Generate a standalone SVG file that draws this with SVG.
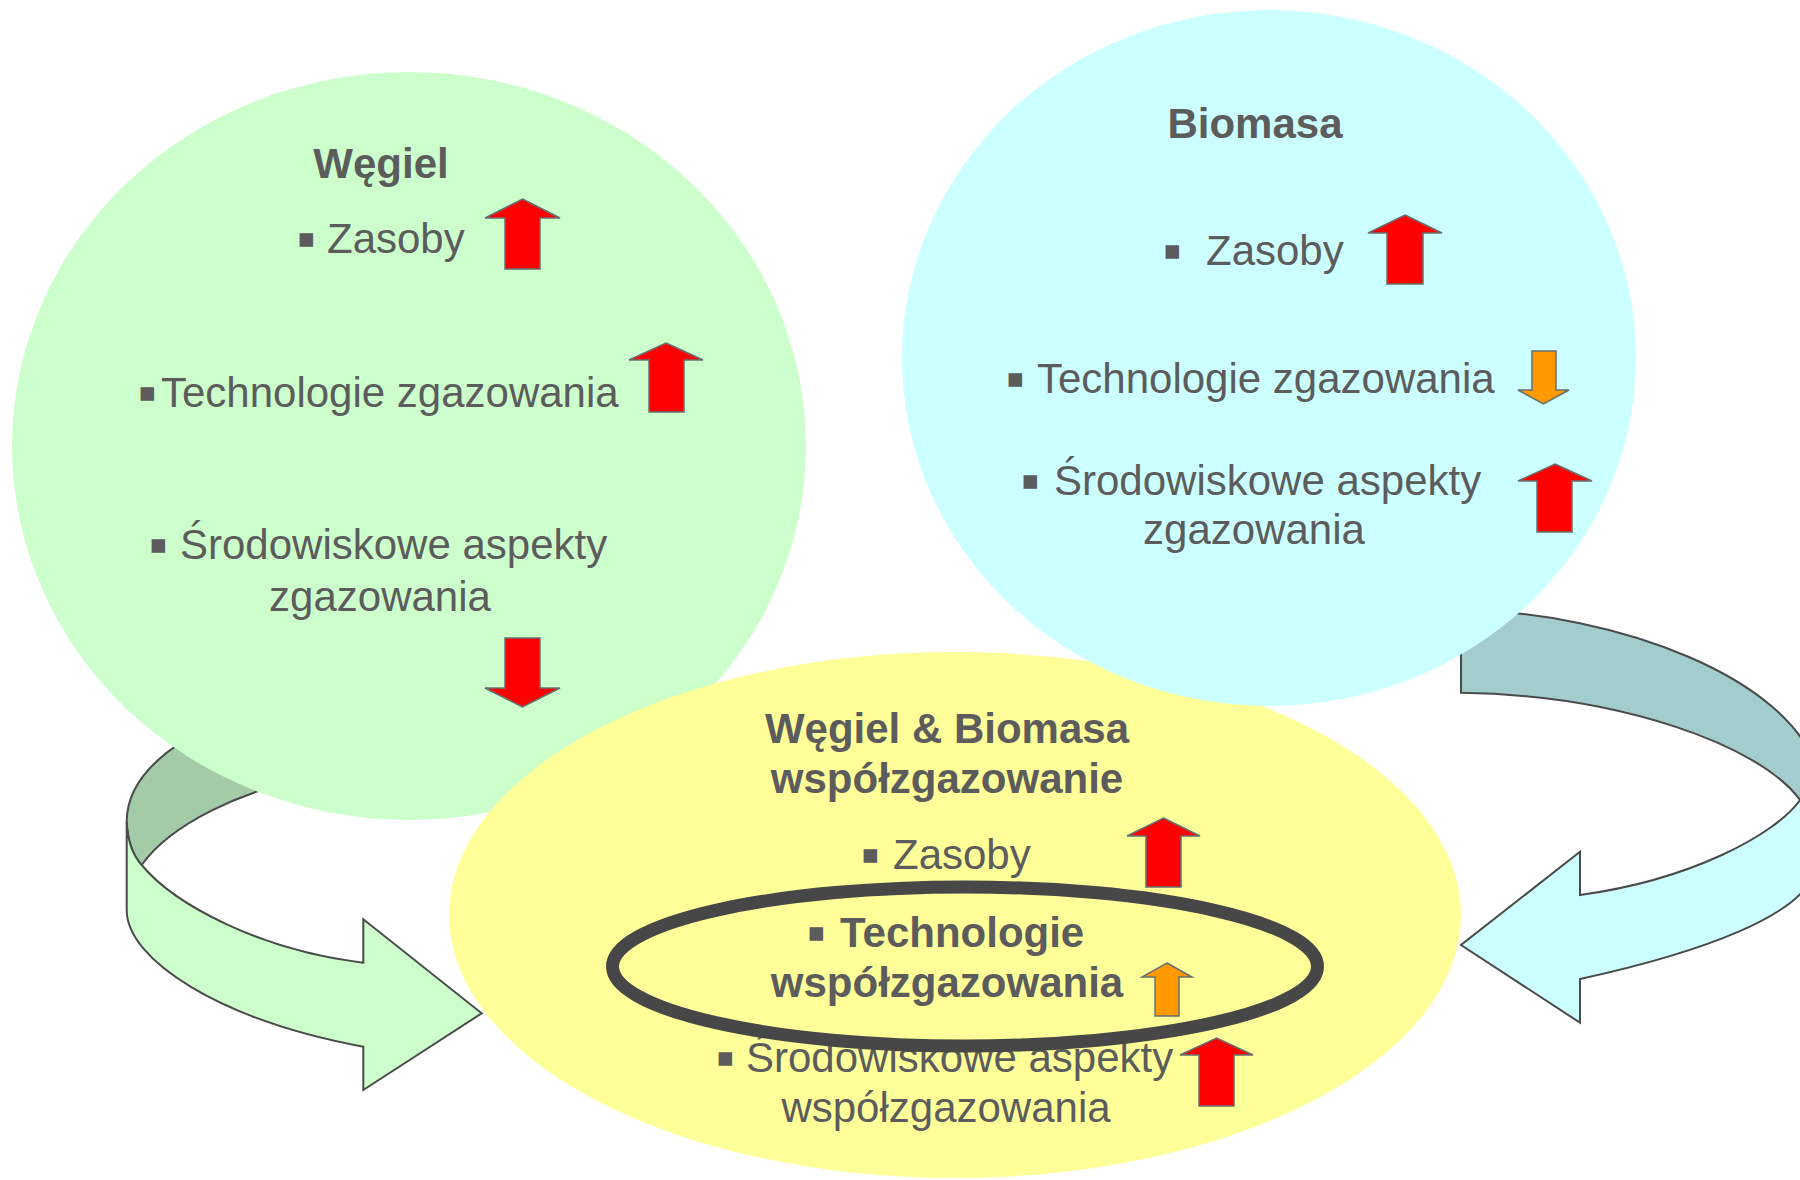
<svg xmlns="http://www.w3.org/2000/svg" width="1800" height="1180" viewBox="0 0 1800 1180">
<style>
.t{font-family:"Liberation Sans",Arial,sans-serif;font-size:42px;fill:#5c5c5c}
.b{font-weight:bold}
.c{text-anchor:middle}
.bl{stroke:#5c5c5c;stroke-width:3;stroke-linejoin:miter}
.band{stroke:#4a4a4a;stroke-width:2;stroke-linejoin:miter}
.red{fill:#ff0000;stroke:#667070;stroke-width:1.5}
.org{fill:#ff9900;stroke:#667070;stroke-width:1.5}
</style>
<rect width="1800" height="1180" fill="#ffffff"/>
<g id="connectors">
  <g id="arrow-wegiel-to-mix">
    <path class="band" fill="#a3cba8" d="M126.7,821.7 C126.7,780 165,740 250,710 L320,775 C240,790 170,825 141.7,865 Q128,850 126.7,821.7 Z"/>
    <path class="band" fill="#ccffcc" d="M126.7,821.7 Q128,850 141.7,865 C175,905 260,950 363.3,962.7 L363.3,919.3 L481.7,1013.3 L363.3,1090 L363.3,1046.7 C220,1020 126.7,960 126.7,910 Z"/>
  </g>
  <g id="arrow-biomasa-to-mix">
    <path class="band" fill="#a3cccc" d="M1461,610 C1620,612 1790,680 1816,768 Q1814,790 1800,800 C1760,745 1620,695 1461,692.7 Z"/>
    <path class="band" fill="#ccffff" d="M1816,768 Q1814,790 1800,800 C1775,835 1690,880 1580,895 L1580,851.7 L1461,945 L1580,1022.7 L1580,979 C1690,955 1816,915 1816,862 Z"/>
  </g>
</g>
<g id="node-wegiel">
  <ellipse cx="409" cy="446" rx="397" ry="374" fill="#ccffcc"/>
  <text class="t b c" x="381" y="178">Węgiel</text>
  <text class="t" y="253"><tspan class="bl" x="299">▪</tspan><tspan x="327">Zasoby</tspan></text>
  <text class="t" y="407"><tspan class="bl" x="140">▪</tspan><tspan x="161">Technologie zgazowania</tspan></text>
  <text class="t" y="559"><tspan class="bl" x="151">▪</tspan><tspan x="180">Środowiskowe aspekty</tspan></text>
  <text class="t c" x="380" y="611">zgazowania</text>
  <polygon class="red" points="522.5,199 560,218 540,218 540,269 505,269 505,218 485,218"/>
  <polygon class="red" points="666,343 703,360 684,360 684,412 649,412 649,360 629,360"/>
  <polygon class="red" points="505,638 540,638 540,688 560,688 522.5,707 485,688 505,688"/>
</g>
<g id="node-mix">
  <ellipse cx="955" cy="915" rx="506" ry="263" fill="#ffff99"/>
  <text class="t b c" x="947" y="743">Węgiel &amp; Biomasa</text>
  <text class="t b c" x="947" y="793">współzgazowanie</text>
  <text class="t" y="869"><tspan class="bl" x="863">▪</tspan><tspan x="893">Zasoby</tspan></text>
  <text class="t b" y="947"><tspan class="bl" x="809">▪</tspan><tspan x="840">Technologie</tspan></text>
  <text class="t b c" x="947" y="997">współzgazowania</text>
  <text class="t" y="1072"><tspan class="bl" x="718">▪</tspan><tspan x="746">Środowiskowe aspekty</tspan></text>
  <text class="t c" x="946" y="1122">współzgazowania</text>
  <ellipse cx="965" cy="966.5" rx="352.5" ry="79.5" fill="none" stroke="#474747" stroke-width="13"/>
  <polygon class="red" points="1163.5,818 1200,836 1181,836 1181,887 1146,887 1146,836 1127,836"/>
  <polygon class="org" points="1167,963 1192,977 1179,977 1179,1016 1155,1016 1155,977 1142,977"/>
  <polygon class="red" points="1216.5,1038 1253,1055 1234,1055 1234,1106 1199,1106 1199,1055 1180,1055"/>
</g>
<g id="node-biomasa">
  <ellipse cx="1269" cy="358" rx="367" ry="348" fill="#ccffff"/>
  <text class="t b c" x="1255" y="138">Biomasa</text>
  <text class="t" y="265"><tspan class="bl" x="1165">▪</tspan><tspan x="1206">Zasoby</tspan></text>
  <text class="t" y="393"><tspan class="bl" x="1008">▪</tspan><tspan x="1037">Technologie zgazowania</tspan></text>
  <text class="t" y="495"><tspan class="bl" x="1023">▪</tspan><tspan x="1054">Środowiskowe aspekty</tspan></text>
  <text class="t c" x="1254" y="544">zgazowania</text>
  <polygon class="red" points="1405,215 1442,233 1423,233 1423,284 1387,284 1387,233 1368,233"/>
  <polygon class="org" points="1532,351 1556,351 1556,390 1569,390 1543.5,404 1518,390 1532,390"/>
  <polygon class="red" points="1555,464 1592,481 1572,481 1572,532 1537,532 1537,481 1518,481"/>
</g>
</svg>
